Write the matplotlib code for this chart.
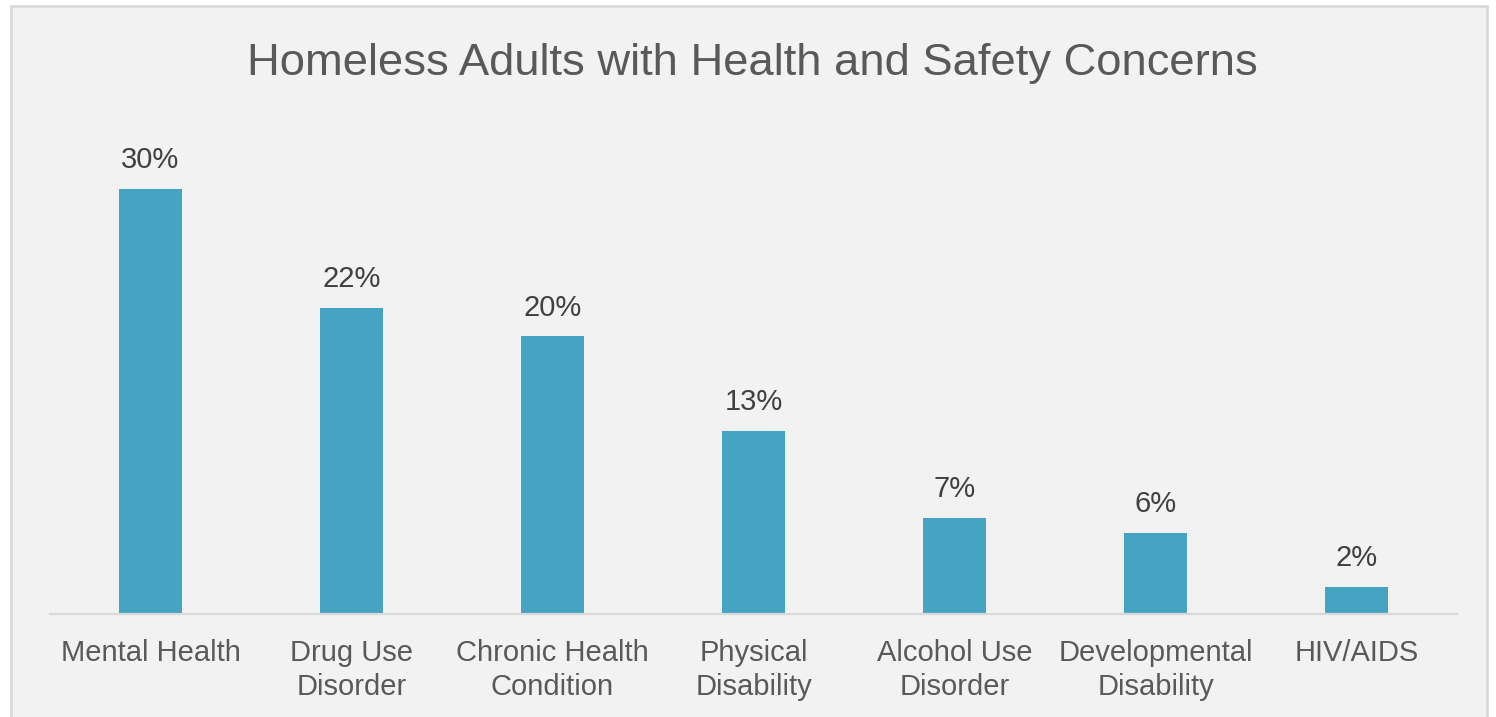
import matplotlib.pyplot as plt
from matplotlib.patches import Rectangle

# data (percent of homeless adults)
categories = ["Mental Health", "Drug Use\nDisorder", "Chronic Health\nCondition",
              "Physical\nDisability", "Alcohol Use\nDisorder", "Developmental\nDisability",
              "HIV/AIDS"]
values = [30.0, 21.6, 19.6, 12.9, 6.8, 5.7, 1.9]
title = "Homeless Adults with Health and Safety Concerns"

BAR_COLOR = "#46a4c2"
TEXT_COLOR = "#595959"
LABEL_COLOR = "#404040"
BG = "#f2f2f2"

plt.rcParams['font.family'] = ['Liberation Sans', 'DejaVu Sans']

W, H = 1496, 717
fig = plt.figure(figsize=(W / 100, H / 100), dpi=100, facecolor="white")

# chart area panel with light border
fig.patches.append(Rectangle((11 / W, -0.05), (1487 - 11) / W, 1.05 - 6 / H,
                             transform=fig.transFigure, facecolor=BG,
                             edgecolor="#d9d9d9", linewidth=2, zorder=-5))

px_per_pct = (614 - 189) / 30.0
ax = fig.add_axes([50 / W, 103 / H, 1407 / W, 494 / H])
ax.set_zorder(2)
ax.set_facecolor("none")

x = range(len(categories))
ax.bar(x, values, width=0.31, color=BAR_COLOR, zorder=2)
ax.set_xlim(-0.5, len(categories) - 0.5)
ax.set_ylim(0, 494 / px_per_pct)

for xi, v in zip(x, values):
    ax.annotate(f"{round(v)}%", (xi, v), xytext=(0, 15), textcoords="offset points",
                ha="center", va="baseline", fontsize=21, color=LABEL_COLOR)

for s in ["left", "right", "top"]:
    ax.spines[s].set_visible(False)
ax.spines["bottom"].set_color("#d9d9d9")
ax.spines["bottom"].set_linewidth(1.6)
ax.set_yticks([])
ax.set_xticks(list(x))
ax.set_xticklabels(categories, fontsize=21, color=TEXT_COLOR, linespacing=1.26)
ax.tick_params(axis="x", length=0, pad=18)

fig.text(752 / W, 1 - 63 / H, title, ha="center", va="center",
         fontsize=32.7, color=TEXT_COLOR, zorder=3)

fig.savefig("out.png", dpi=100, facecolor="white")
